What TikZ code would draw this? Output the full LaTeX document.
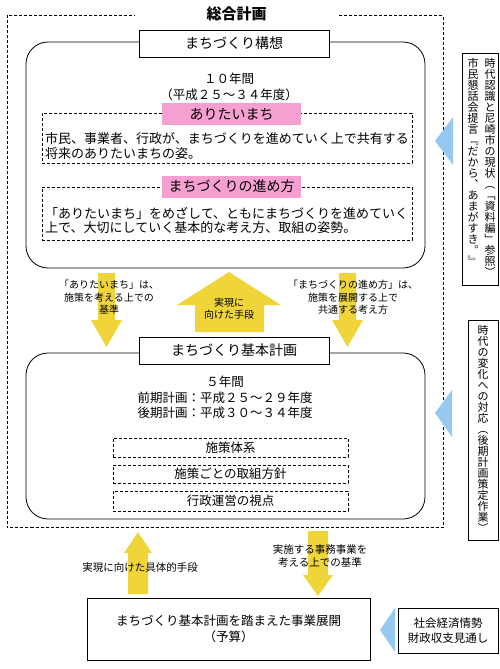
\documentclass[tikz,border=0pt]{standalone}
\usepackage{fontspec}
\setmainfont{Noto Sans CJK JP}
\definecolor{labelpink}{RGB}{246,160,210}
\definecolor{arrowyellow}{RGB}{240,213,58}
\definecolor{tribblue}{RGB}{150,200,240}
% vertical (tategaki) column: one character per line
\makeatletter
\newcommand\tatestack[1]{\vbox{\baselineskip=11pt\lineskiplimit=-\maxdimen
  \@tfor\tatec:=#1\do{\hbox to 11pt{\hss\tatec\hss}}}}
\makeatother
\begin{document}
\begin{tikzpicture}[x=1pt, y=-1pt,
    titlebox/.style={draw, fill=white, minimum width=190pt, minimum height=27pt, font=\fontsize{14}{16}\selectfont},
    pinklabel/.style={fill=labelpink, minimum width=139pt, minimum height=22pt, inner sep=0pt, font=\fontsize{14}{16}\selectfont},
    dashbox/.style={draw, densely dashed, line width=0.6pt},
    bodytext/.style={align=left, inner sep=0pt, font=\fontsize{13}{14.5}\selectfont},
    midtext/.style={align=center, inner sep=0pt, font=\fontsize{12.5}{15.5}\selectfont},
    smalltext/.style={align=center, inner sep=0pt, font=\fontsize{10}{12.5}\selectfont},
    yarrow/.style={fill=arrowyellow},
    bluetri/.style={fill=tribblue},
    tate/.style={anchor=north, inner sep=0pt, font=\fontsize{11}{11}\selectfont}]
    \useasboundingbox (0,0) rectangle (500,669);
    % outer frame and title
    \draw[densely dashed, line width=0.6pt] (7,15.5) rectangle (443,527);
    \node[fill=white, minimum width=203pt, font=\fontsize{15}{17}\selectfont\bfseries] (sougou) at (236.5,14) {総合計画};
    % upper block
    \draw[line width=0.8pt, rounded corners=22pt] (26,42) rectangle (425,268);
    \node[titlebox] (kousou) at (234,43.5) {まちづくり構想};
    \node[midtext] (kousouterm) at (229,87) {１０年間\\（平成２５～３４年度）};
    \node[dashbox, minimum width=370pt, minimum height=50pt] (arikata) at (227,138) {};
    \node[pinklabel] (arikatalbl) at (231.5,114) {ありたいまち};
    \node[bodytext, anchor=west] (arikatatxt) at (45,146) {市民、事業者、行政が、まちづくりを進めていく上で共有する\\将来のありたいまちの姿。};
    \node[dashbox, minimum width=370pt, minimum height=53pt] (susumekata) at (227,213.5) {};
    \node[pinklabel] (susumekatalbl) at (231.5,186.5) {まちづくりの進め方};
    \node[bodytext, anchor=west] (susumekatatxt) at (45,220.5) {「ありたいまち」をめざして、ともにまちづくりを進めていく\\上で、大切にしていく基本的な考え方、取組の姿勢。};
    % yellow arrows between the two blocks
    \fill[yarrow] (98,273) -- (115,273) -- (115,320) -- (122,320) -- (106.5,347) -- (91,320) -- (98,320) -- cycle;
    \fill[yarrow] (339,273) -- (356,273) -- (356,320) -- (363,320) -- (347.5,347) -- (332,320) -- (339,320) -- cycle;
    \fill[yarrow] (229,272) -- (281,305) -- (264,305) -- (264,332) -- (195,332) -- (195,305) -- (177,305) -- cycle;
    \node[smalltext] (kijunlbl) at (109,297.5) {「ありたいまち」は、\\施策を考える上での\\基準};
    \node[smalltext] (shudanlbl) at (229,308.5) {実現に\\向けた手段};
    \node[smalltext] (kangaelbl) at (353,297.5) {「まちづくりの進め方」は、\\施策を展開する上で\\共通する考え方};
    % lower block
    \draw[line width=0.8pt, rounded corners=22pt] (26,353) rectangle (425,519);
    \node[titlebox] (kihon) at (234,350.5) {まちづくり基本計画};
    \node[midtext] (kihonterm) at (225,397.5) {５年間\\前期計画：平成２５～２９年度\\後期計画：平成３０～３４年度};
    \node[dashbox, minimum width=235pt, minimum height=19pt, font=\fontsize{12.5}{14}\selectfont] (taikei) at (230.5,447.5) {施策体系};
    \node[dashbox, minimum width=235pt, minimum height=18pt, font=\fontsize{12.5}{14}\selectfont] (houshin) at (230.5,474) {施策ごとの取組方針};
    \node[dashbox, minimum width=235pt, minimum height=20pt, font=\fontsize{12.5}{14}\selectfont] (shiten) at (230.5,501) {行政運営の視点};
    % arrows to the budget box
    \fill[yarrow] (138,532) -- (152,553) -- (148,553) -- (148,594) -- (128,594) -- (128,553) -- (124,553) -- cycle;
    \fill[yarrow] (308,531) -- (328,531) -- (328,575) -- (333,575) -- (318,596) -- (303,575) -- (308,575) -- cycle;
    \node[smalltext, font=\fontsize{10.5}{13}\selectfont] (gutailbl) at (140,568) {実現に向けた具体的手段};
    \node[smalltext, font=\fontsize{10.5}{13}\selectfont] (jimulbl) at (320,556.5) {実施する事務事業を\\考える上での基準};
    \node[draw, line width=0.8pt, minimum width=283pt, minimum height=62pt, align=center, font=\fontsize{12.5}{16}\selectfont] (yosan) at (228.5,629) {まちづくり基本計画を踏まえた事業展開\\（予算）};
    % right side inputs
    \node[draw, line width=0.6pt, minimum width=100pt, minimum height=45pt, align=center, font=\fontsize{11.5}{15}\selectfont] (keizai) at (448,630.5) {社会経済情勢\\財政収支見通し};
    \draw[line width=0.6pt] (462.5,53) rectangle (498.5,285);
    \node[tate] (genjou) at (490,58) {\tatestack{時代認識と尼崎市の現状︵﹁資料編﹂参照︶}};
    \node[tate] (teigen) at (473,58) {\tatestack{市民懇話会提言﹃だから︑あまがすき︒﹄}};
    \draw[line width=0.6pt] (468,320) rectangle (498.5,540);
    \node[tate] (henka) at (483,325) {\tatestack{時代の変化への対応︵後期計画策定作業︶}};
    % blue pointers
    \fill[bluetri] (435,141) -- (453,117) -- (453,165) -- cycle;
    \fill[bluetri] (435,413) -- (452,390) -- (452,437) -- cycle;
    \fill[bluetri] (380,630) -- (395,608) -- (395,652) -- cycle;
\end{tikzpicture}
\end{document}
